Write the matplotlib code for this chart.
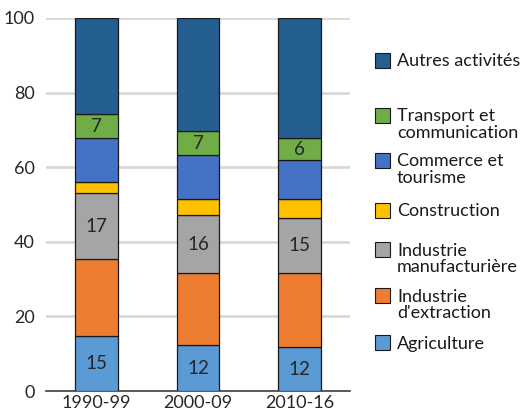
import matplotlib
matplotlib.use("Agg")
import matplotlib.pyplot as plt
from matplotlib.patches import Rectangle

plt.rcParams['font.family'] = ['Lato', 'DejaVu Sans']

# Données (parts en %)
periodes = ["1990-99", "2000-09", "2010-16"]
categories = ["Agriculture", "Industrie\nd'extraction", "Industrie\nmanufacturière",
              "Construction", "Commerce et\ntourisme", "Transport et\ncommunication",
              "Autres activités"]
agriculture = [14.8, 12.3, 11.7]
extraction = [20.6, 19.3, 19.9]
manufacture = [17.6, 15.5, 14.8]
construction = [3.1, 4.4, 5.1]
commerce = [11.7, 11.7, 10.4]
transport = [6.4, 6.4, 5.9]
autres = [25.8, 30.4, 32.2]
series = [agriculture, extraction, manufacture, construction, commerce, transport, autres]
# étiquettes affichées dans les barres (None = pas d'étiquette)
etiquettes = [["15", "12", "12"], None, ["17", "16", "15"], None, None, ["7", "7", "6"], None]
couleurs = ["#5B9BD5", "#ED7D31", "#A5A5A5", "#FFC000", "#4472C4", "#70AD47", "#255E91"]

fig = plt.figure(figsize=(5.22, 4.16), dpi=100)
ax = fig.add_axes([46 / 522, 25 / 416, 304 / 522, 373 / 416])

x = range(len(periodes))
bas = [0, 0, 0]
for serie, lab, coul in zip(series, etiquettes, couleurs):
    barres = ax.bar(x, serie, width=0.42, bottom=bas, color=coul,
                    edgecolor="#1a1a1a", linewidth=0.9, zorder=3)
    if lab:
        ax.bar_label(barres, labels=lab, label_type="center", fontsize=13.5, color="#262626")
    bas = [b + s for b, s in zip(bas, serie)]

ax.set_xlim(-0.5, 2.5)
ax.set_ylim(0, 100)
ax.set_yticks([0, 20, 40, 60, 80, 100])
ax.set_xticks(list(x))
ax.set_xticklabels(periodes)
ax.tick_params(axis="both", length=0, labelsize=13, colors="#262626")
ax.tick_params(axis="y", pad=8)
ax.tick_params(axis="x", pad=3)
ax.grid(axis="y", color="#d9d9d9", linewidth=2, zorder=0)
for s in ["top", "right", "left"]:
    ax.spines[s].set_visible(False)
ax.spines["bottom"].set_color("#404040")
ax.spines["bottom"].set_linewidth(1.2)

# Légende manuelle (ordre inversé), haut des carrés en pixels
haut_carre = [335, 288, 242, 203, 153, 108, 53]
for cat, coul, py in zip(categories, couleurs, haut_carre):
    fig.patches.append(Rectangle((375 / 522, 1 - (py + 15) / 416), 15 / 522, 15 / 416,
                                 transform=fig.transFigure, facecolor=coul,
                                 edgecolor="#1a1a1a", linewidth=0.8))
    for i, ligne in enumerate(cat.split("\n")):
        fig.text(397 / 522, 1 - (py + 13.5 + 16 * i) / 416, ligne, fontsize=13,
                 color="#1a1a1a", va="baseline", ha="left")

fig.savefig("out.png", dpi=100)
